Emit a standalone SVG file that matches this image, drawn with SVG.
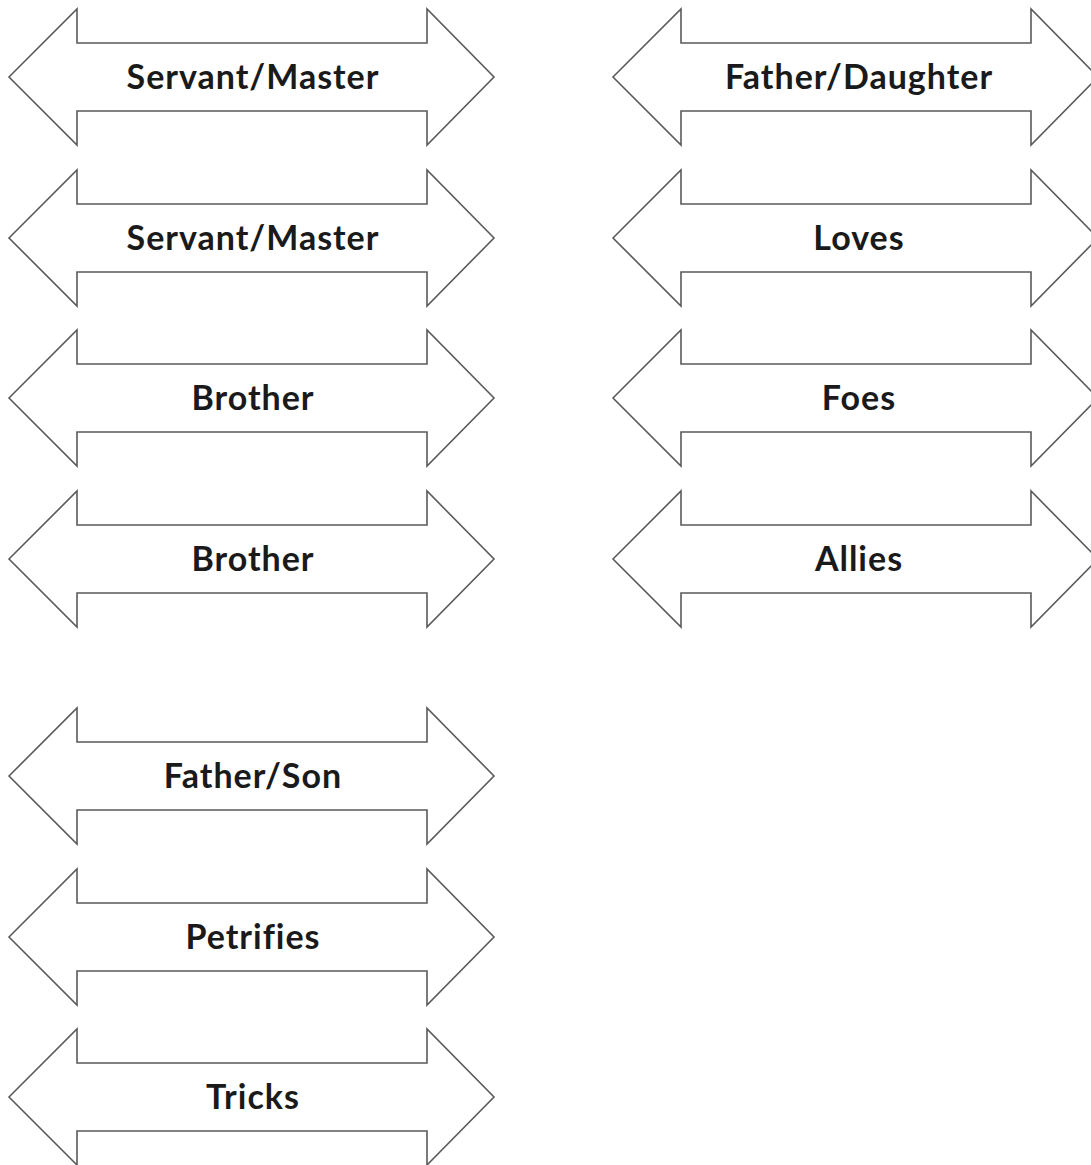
<svg xmlns="http://www.w3.org/2000/svg" width="1091" height="1165" viewBox="0 0 1091 1165">
<style>
.arr{fill:#fff;stroke:#5a5a5a;stroke-width:1.6;stroke-linejoin:miter}
.lbl{font-family:Lato,"Liberation Sans",sans-serif;font-weight:bold;font-size:34px;letter-spacing:1px;fill:#1a1a1a;text-anchor:middle}
</style>
<defs>
<path id="dbl" d="M0,0 L68,-68 L68,-34 L418,-34 L418,-68 L485,0 L418,68 L418,34 L68,34 L68,68 Z"/>
</defs>
<rect width="1091" height="1165" fill="#fff"/>
<g id="connectors"></g>
<g id="n1"><use href="#dbl" class="arr" x="9" y="77"/><text class="lbl" x="253" y="89">Servant/Master</text></g>
<g id="n2"><use href="#dbl" class="arr" x="9" y="238"/><text class="lbl" x="253" y="250">Servant/Master</text></g>
<g id="n3"><use href="#dbl" class="arr" x="9" y="398"/><text class="lbl" x="253" y="410">Brother</text></g>
<g id="n4"><use href="#dbl" class="arr" x="9" y="559"/><text class="lbl" x="253" y="571">Brother</text></g>
<g id="n5"><use href="#dbl" class="arr" x="9" y="776"/><text class="lbl" x="253" y="788">Father/Son</text></g>
<g id="n6"><use href="#dbl" class="arr" x="9" y="937"/><text class="lbl" x="253" y="949">Petrifies</text></g>
<g id="n7"><use href="#dbl" class="arr" x="9" y="1097"/><text class="lbl" x="253" y="1109">Tricks</text></g>
<g id="n8"><use href="#dbl" class="arr" x="613" y="77"/><text class="lbl" x="859" y="89">Father/Daughter</text></g>
<g id="n9"><use href="#dbl" class="arr" x="613" y="238"/><text class="lbl" x="859" y="250">Loves</text></g>
<g id="n10"><use href="#dbl" class="arr" x="613" y="398"/><text class="lbl" x="859" y="410">Foes</text></g>
<g id="n11"><use href="#dbl" class="arr" x="613" y="559"/><text class="lbl" x="859" y="571">Allies</text></g>
</svg>
